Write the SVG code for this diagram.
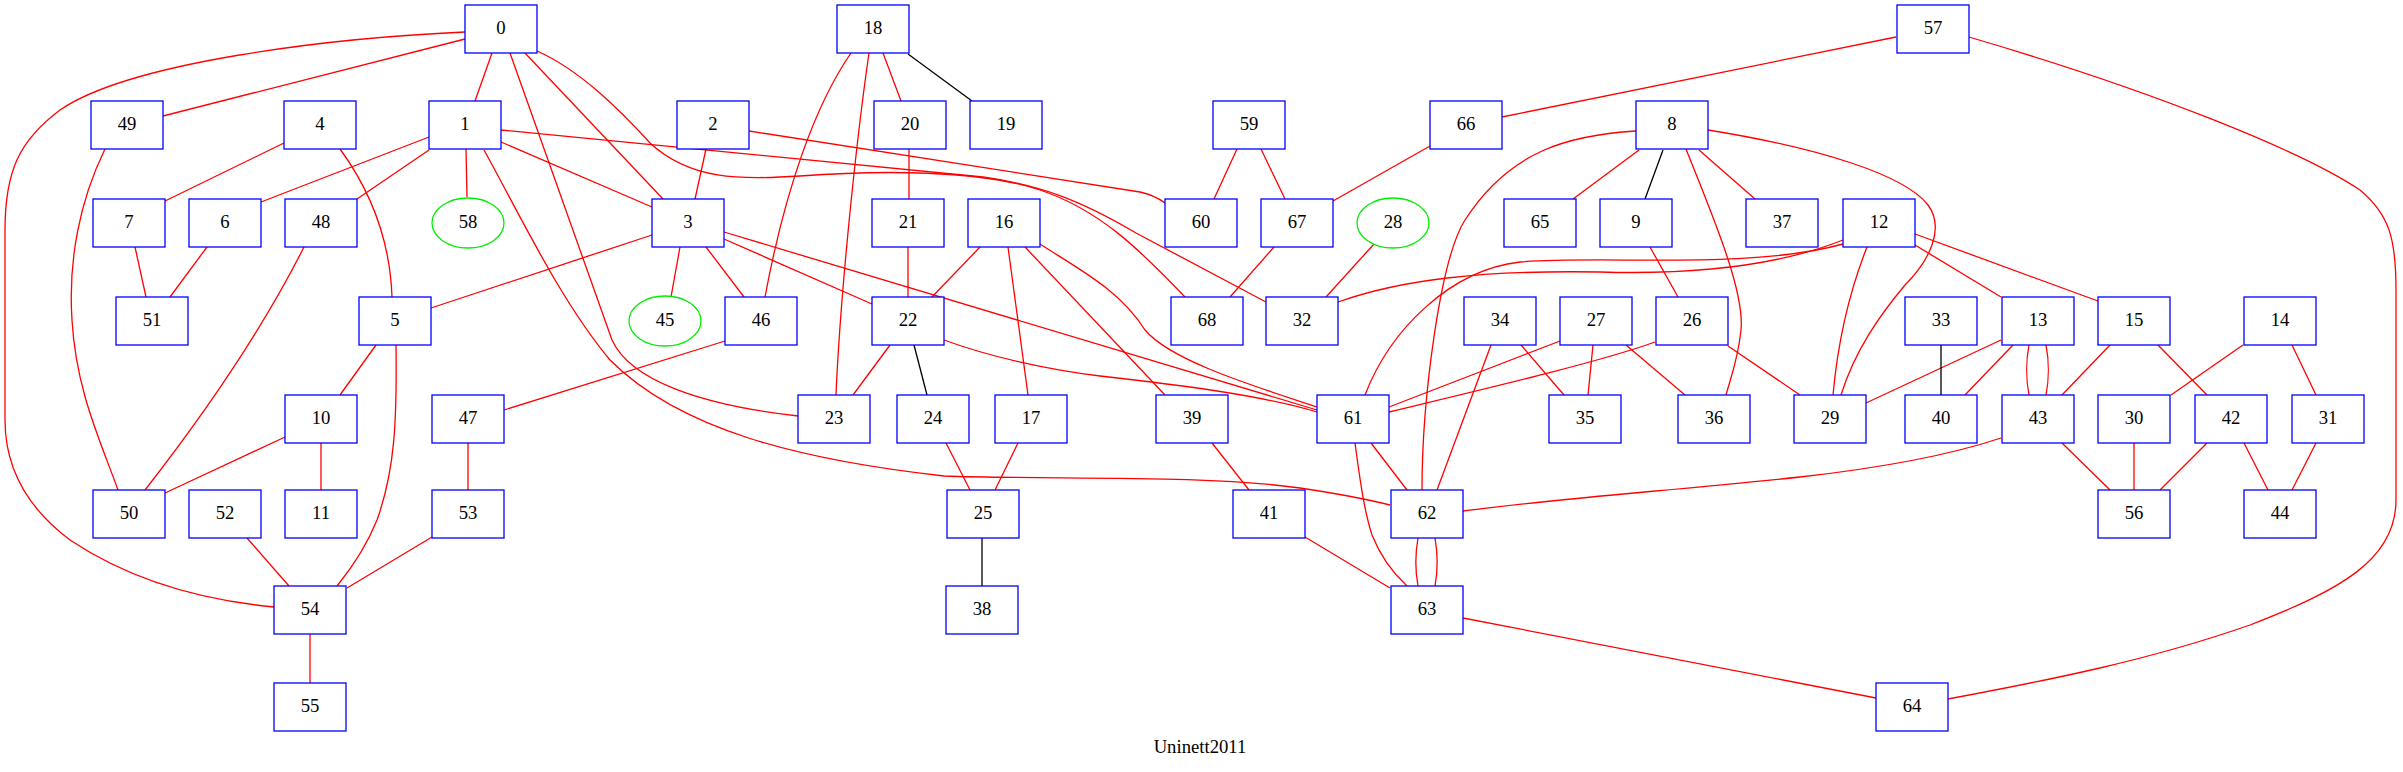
<svg xmlns="http://www.w3.org/2000/svg" width="2403" height="772" viewBox="0 0 2403 772">
<style>
.node rect{fill:#fff;stroke:#0000ff;stroke-width:1.3}
.node ellipse{fill:#fff;stroke:#00ee00;stroke-width:1.3}
.node text,.title{font-family:"Liberation Serif","Times New Roman",serif;font-size:18.7px;text-anchor:middle;fill:#000}
.edges path{fill:none;stroke:#ff0000;stroke-width:1.3}
.edges path.k{stroke:#000}
</style>
<rect width="2403" height="772" fill="#fff"/>
<g class="edges" id="edges">
<path d="M465,39 L163,116"/>
<path d="M465,32 C330,38 130,62 60,110 C20,140 5,170 5,230 L5,420 C5,470 30,510 70,540 C130,580 200,600 274,607"/>
<path d="M492,53 L475,101"/>
<path d="M510,53 L612,340 C630,380 700,405 798,416"/>
<path d="M525,53 L663,199"/>
<path d="M537,51 C580,70 620,110 650,143 C690,180 740,180 800,176 C880,170 980,170 1040,190 C1100,210 1140,250 1185,297"/>
<path d="M429,137 L261,202"/>
<path d="M429,150 L357,199"/>
<path d="M466,149 L467,197"/>
<path d="M484,150 C520,215 560,300 610,360 C680,430 800,460 944,476 C1050,480 1200,474 1300,488 C1340,494 1370,500 1390,505"/>
<path d="M501,142 L652,207"/>
<path d="M501,130 L983,177 C1040,185 1080,200 1136,233 L1266,302"/>
<path d="M706,149 L695,199"/>
<path d="M749,131 L1140,192 C1150,194 1158,198 1165,203"/>
<path d="M652,235 L431,308"/>
<path d="M680,247 L671,297"/>
<path d="M706,247 L744,297"/>
<path d="M724,239 L872,304"/>
<path d="M724,232 L1317,410"/>
<path d="M284,143 L165,201"/>
<path d="M340,149 C370,190 390,240 392,297"/>
<path d="M376,345 L340,395"/>
<path d="M396,345 C397,420 395,470 377,520 C365,550 350,570 337,586"/>
<path d="M207,247 L170,297"/>
<path d="M135,247 L146,297"/>
<path d="M304,247 Q248,358 145,490"/>
<path d="M105,149 C80,200 68,260 72,320 C76,390 100,440 118,490"/>
<path d="M285,437 L165,493"/>
<path d="M321,443 L321,490"/>
<path d="M725,341 L504,410"/>
<path d="M468,443 L468,490"/>
<path d="M247,538 L289,586"/>
<path d="M432,537 L347,588"/>
<path d="M310,634 L310,683"/>
<path d="M851,53 C815,105 785,190 765,297"/>
<path d="M869,53 C855,150 840,300 836,395"/>
<path d="M883,53 L901,101"/>
<path class="k" d="M908,54 L972,101"/>
<path d="M909,149 L909,199"/>
<path d="M908,247 L908,297"/>
<path d="M980,247 L932,297"/>
<path d="M1008,247 L1028,395"/>
<path d="M1025,247 L1165,395"/>
<path d="M1040,244 C1080,270 1120,290 1145,330 C1170,360 1250,385 1317,407"/>
<path d="M890,345 L853,395"/>
<path class="k" d="M914,345 L927,395"/>
<path d="M944,340 C990,357 1050,370 1100,376 C1180,385 1260,395 1317,412"/>
<path d="M946,443 L970,490"/>
<path d="M1018,443 L995,490"/>
<path class="k" d="M982,538 L982,586"/>
<path d="M1212,443 L1249,490"/>
<path d="M1305,537 L1390,588"/>
<path d="M1237,149 L1214,199"/>
<path d="M1261,149 L1285,199"/>
<path d="M1430,146 L1333,201"/>
<path d="M1274,247 L1230,297"/>
<path d="M1374,244 L1326,297"/>
<path d="M1896,37 L1502,117"/>
<path d="M1969,37 C2150,90 2300,150 2360,190 C2390,215 2396,240 2396,290 L2396,500 C2396,560 2340,590 2250,625 C2150,660 2050,680 1948,699"/>
<path d="M1639,150 L1573,199"/>
<path class="k" d="M1663,150 L1645,199"/>
<path d="M1686,149 C1710,210 1745,290 1741,330 C1738,360 1730,380 1726,395"/>
<path d="M1699,150 L1755,199"/>
<path d="M1708,130 C1820,148 1905,175 1928,205 C1945,228 1930,260 1905,285 C1880,315 1855,350 1841,395"/>
<path d="M1636,131 C1570,135 1510,150 1465,220 C1440,259 1422,400 1422,490"/>
<path d="M1843,240 C1780,265 1700,275 1600,272 C1480,270 1400,280 1338,302"/>
<path d="M1843,244 C1750,270 1600,255 1520,262 C1450,270 1390,330 1365,395"/>
<path d="M1867,247 C1850,290 1838,340 1833,395"/>
<path d="M1915,245 L2001,297"/>
<path d="M1915,234 L2098,301"/>
<path d="M2001,340 L1866,403"/>
<path d="M2013,345 L1965,395"/>
<path d="M2029,345 C2026,360 2026,380 2029,395"/>
<path d="M2046,345 C2049,360 2049,380 2046,395"/>
<path d="M2110,345 L2062,395"/>
<path d="M2158,345 L2207,395"/>
<path d="M2243,345 L2171,395"/>
<path d="M2292,345 L2316,395"/>
<path class="k" d="M1941,345 L1941,395"/>
<path d="M2062,443 L2110,490"/>
<path d="M2001,438 C1950,455 1880,468 1800,477 C1680,490 1560,498 1463,511"/>
<path d="M2134,443 L2134,490"/>
<path d="M2207,443 L2160,490"/>
<path d="M2244,443 L2268,490"/>
<path d="M2316,443 L2292,490"/>
<path d="M1521,345 L1564,395"/>
<path d="M1491,345 L1437,490"/>
<path d="M1560,341 L1389,407"/>
<path d="M1593,345 L1588,395"/>
<path d="M1626,345 L1685,395"/>
<path d="M1655,342 C1600,362 1480,390 1389,412"/>
<path d="M1728,346 L1800,395"/>
<path d="M1650,247 L1678,297"/>
<path d="M1371,443 L1407,490"/>
<path d="M1355,443 C1360,480 1364,510 1372,535 C1382,560 1395,575 1407,586"/>
<path d="M1418,538 C1415,555 1415,570 1418,586"/>
<path d="M1435,538 C1438,555 1438,570 1435,586"/>
<path d="M1463,618 L1876,698"/>
</g>
<g id="n0" class="node"><rect x="465" y="5" width="72" height="48"/><text x="501" y="34">0</text></g>
<g id="n18" class="node"><rect x="837" y="5" width="72" height="48"/><text x="873" y="34">18</text></g>
<g id="n57" class="node"><rect x="1897" y="5" width="72" height="48"/><text x="1933" y="34">57</text></g>
<g id="n49" class="node"><rect x="91" y="101" width="72" height="48"/><text x="127" y="130">49</text></g>
<g id="n4" class="node"><rect x="284" y="101" width="72" height="48"/><text x="320" y="130">4</text></g>
<g id="n1" class="node"><rect x="429" y="101" width="72" height="48"/><text x="465" y="130">1</text></g>
<g id="n2" class="node"><rect x="677" y="101" width="72" height="48"/><text x="713" y="130">2</text></g>
<g id="n20" class="node"><rect x="874" y="101" width="72" height="48"/><text x="910" y="130">20</text></g>
<g id="n19" class="node"><rect x="970" y="101" width="72" height="48"/><text x="1006" y="130">19</text></g>
<g id="n59" class="node"><rect x="1213" y="101" width="72" height="48"/><text x="1249" y="130">59</text></g>
<g id="n66" class="node"><rect x="1430" y="101" width="72" height="48"/><text x="1466" y="130">66</text></g>
<g id="n8" class="node"><rect x="1636" y="101" width="72" height="48"/><text x="1672" y="130">8</text></g>
<g id="n7" class="node"><rect x="93" y="199" width="72" height="48"/><text x="129" y="228">7</text></g>
<g id="n6" class="node"><rect x="189" y="199" width="72" height="48"/><text x="225" y="228">6</text></g>
<g id="n48" class="node"><rect x="285" y="199" width="72" height="48"/><text x="321" y="228">48</text></g>
<g id="n58" class="node"><ellipse cx="468" cy="223" rx="36" ry="25"/><text x="468" y="228">58</text></g>
<g id="n3" class="node"><rect x="652" y="199" width="72" height="48"/><text x="688" y="228">3</text></g>
<g id="n21" class="node"><rect x="872" y="199" width="72" height="48"/><text x="908" y="228">21</text></g>
<g id="n16" class="node"><rect x="968" y="199" width="72" height="48"/><text x="1004" y="228">16</text></g>
<g id="n60" class="node"><rect x="1165" y="199" width="72" height="48"/><text x="1201" y="228">60</text></g>
<g id="n67" class="node"><rect x="1261" y="199" width="72" height="48"/><text x="1297" y="228">67</text></g>
<g id="n28" class="node"><ellipse cx="1393" cy="223" rx="36" ry="25"/><text x="1393" y="228">28</text></g>
<g id="n65" class="node"><rect x="1504" y="199" width="72" height="48"/><text x="1540" y="228">65</text></g>
<g id="n9" class="node"><rect x="1600" y="199" width="72" height="48"/><text x="1636" y="228">9</text></g>
<g id="n37" class="node"><rect x="1746" y="199" width="72" height="48"/><text x="1782" y="228">37</text></g>
<g id="n12" class="node"><rect x="1843" y="199" width="72" height="48"/><text x="1879" y="228">12</text></g>
<g id="n51" class="node"><rect x="116" y="297" width="72" height="48"/><text x="152" y="326">51</text></g>
<g id="n5" class="node"><rect x="359" y="297" width="72" height="48"/><text x="395" y="326">5</text></g>
<g id="n45" class="node"><ellipse cx="665" cy="321" rx="36" ry="25"/><text x="665" y="326">45</text></g>
<g id="n46" class="node"><rect x="725" y="297" width="72" height="48"/><text x="761" y="326">46</text></g>
<g id="n22" class="node"><rect x="872" y="297" width="72" height="48"/><text x="908" y="326">22</text></g>
<g id="n68" class="node"><rect x="1171" y="297" width="72" height="48"/><text x="1207" y="326">68</text></g>
<g id="n32" class="node"><rect x="1266" y="297" width="72" height="48"/><text x="1302" y="326">32</text></g>
<g id="n34" class="node"><rect x="1464" y="297" width="72" height="48"/><text x="1500" y="326">34</text></g>
<g id="n27" class="node"><rect x="1560" y="297" width="72" height="48"/><text x="1596" y="326">27</text></g>
<g id="n26" class="node"><rect x="1656" y="297" width="72" height="48"/><text x="1692" y="326">26</text></g>
<g id="n33" class="node"><rect x="1905" y="297" width="72" height="48"/><text x="1941" y="326">33</text></g>
<g id="n13" class="node"><rect x="2002" y="297" width="72" height="48"/><text x="2038" y="326">13</text></g>
<g id="n15" class="node"><rect x="2098" y="297" width="72" height="48"/><text x="2134" y="326">15</text></g>
<g id="n14" class="node"><rect x="2244" y="297" width="72" height="48"/><text x="2280" y="326">14</text></g>
<g id="n10" class="node"><rect x="285" y="395" width="72" height="48"/><text x="321" y="424">10</text></g>
<g id="n47" class="node"><rect x="432" y="395" width="72" height="48"/><text x="468" y="424">47</text></g>
<g id="n23" class="node"><rect x="798" y="395" width="72" height="48"/><text x="834" y="424">23</text></g>
<g id="n24" class="node"><rect x="897" y="395" width="72" height="48"/><text x="933" y="424">24</text></g>
<g id="n17" class="node"><rect x="995" y="395" width="72" height="48"/><text x="1031" y="424">17</text></g>
<g id="n39" class="node"><rect x="1156" y="395" width="72" height="48"/><text x="1192" y="424">39</text></g>
<g id="n61" class="node"><rect x="1317" y="395" width="72" height="48"/><text x="1353" y="424">61</text></g>
<g id="n35" class="node"><rect x="1549" y="395" width="72" height="48"/><text x="1585" y="424">35</text></g>
<g id="n36" class="node"><rect x="1678" y="395" width="72" height="48"/><text x="1714" y="424">36</text></g>
<g id="n29" class="node"><rect x="1794" y="395" width="72" height="48"/><text x="1830" y="424">29</text></g>
<g id="n40" class="node"><rect x="1905" y="395" width="72" height="48"/><text x="1941" y="424">40</text></g>
<g id="n43" class="node"><rect x="2002" y="395" width="72" height="48"/><text x="2038" y="424">43</text></g>
<g id="n30" class="node"><rect x="2098" y="395" width="72" height="48"/><text x="2134" y="424">30</text></g>
<g id="n42" class="node"><rect x="2195" y="395" width="72" height="48"/><text x="2231" y="424">42</text></g>
<g id="n31" class="node"><rect x="2292" y="395" width="72" height="48"/><text x="2328" y="424">31</text></g>
<g id="n50" class="node"><rect x="93" y="490" width="72" height="48"/><text x="129" y="519">50</text></g>
<g id="n52" class="node"><rect x="189" y="490" width="72" height="48"/><text x="225" y="519">52</text></g>
<g id="n11" class="node"><rect x="285" y="490" width="72" height="48"/><text x="321" y="519">11</text></g>
<g id="n53" class="node"><rect x="432" y="490" width="72" height="48"/><text x="468" y="519">53</text></g>
<g id="n25" class="node"><rect x="947" y="490" width="72" height="48"/><text x="983" y="519">25</text></g>
<g id="n41" class="node"><rect x="1233" y="490" width="72" height="48"/><text x="1269" y="519">41</text></g>
<g id="n62" class="node"><rect x="1391" y="490" width="72" height="48"/><text x="1427" y="519">62</text></g>
<g id="n56" class="node"><rect x="2098" y="490" width="72" height="48"/><text x="2134" y="519">56</text></g>
<g id="n44" class="node"><rect x="2244" y="490" width="72" height="48"/><text x="2280" y="519">44</text></g>
<g id="n54" class="node"><rect x="274" y="586" width="72" height="48"/><text x="310" y="615">54</text></g>
<g id="n38" class="node"><rect x="946" y="586" width="72" height="48"/><text x="982" y="615">38</text></g>
<g id="n63" class="node"><rect x="1391" y="586" width="72" height="48"/><text x="1427" y="615">63</text></g>
<g id="n55" class="node"><rect x="274" y="683" width="72" height="48"/><text x="310" y="712">55</text></g>
<g id="n64" class="node"><rect x="1876" y="683" width="72" height="48"/><text x="1912" y="712">64</text></g>
<text class="title" x="1200" y="753">Uninett2011</text>
</svg>
